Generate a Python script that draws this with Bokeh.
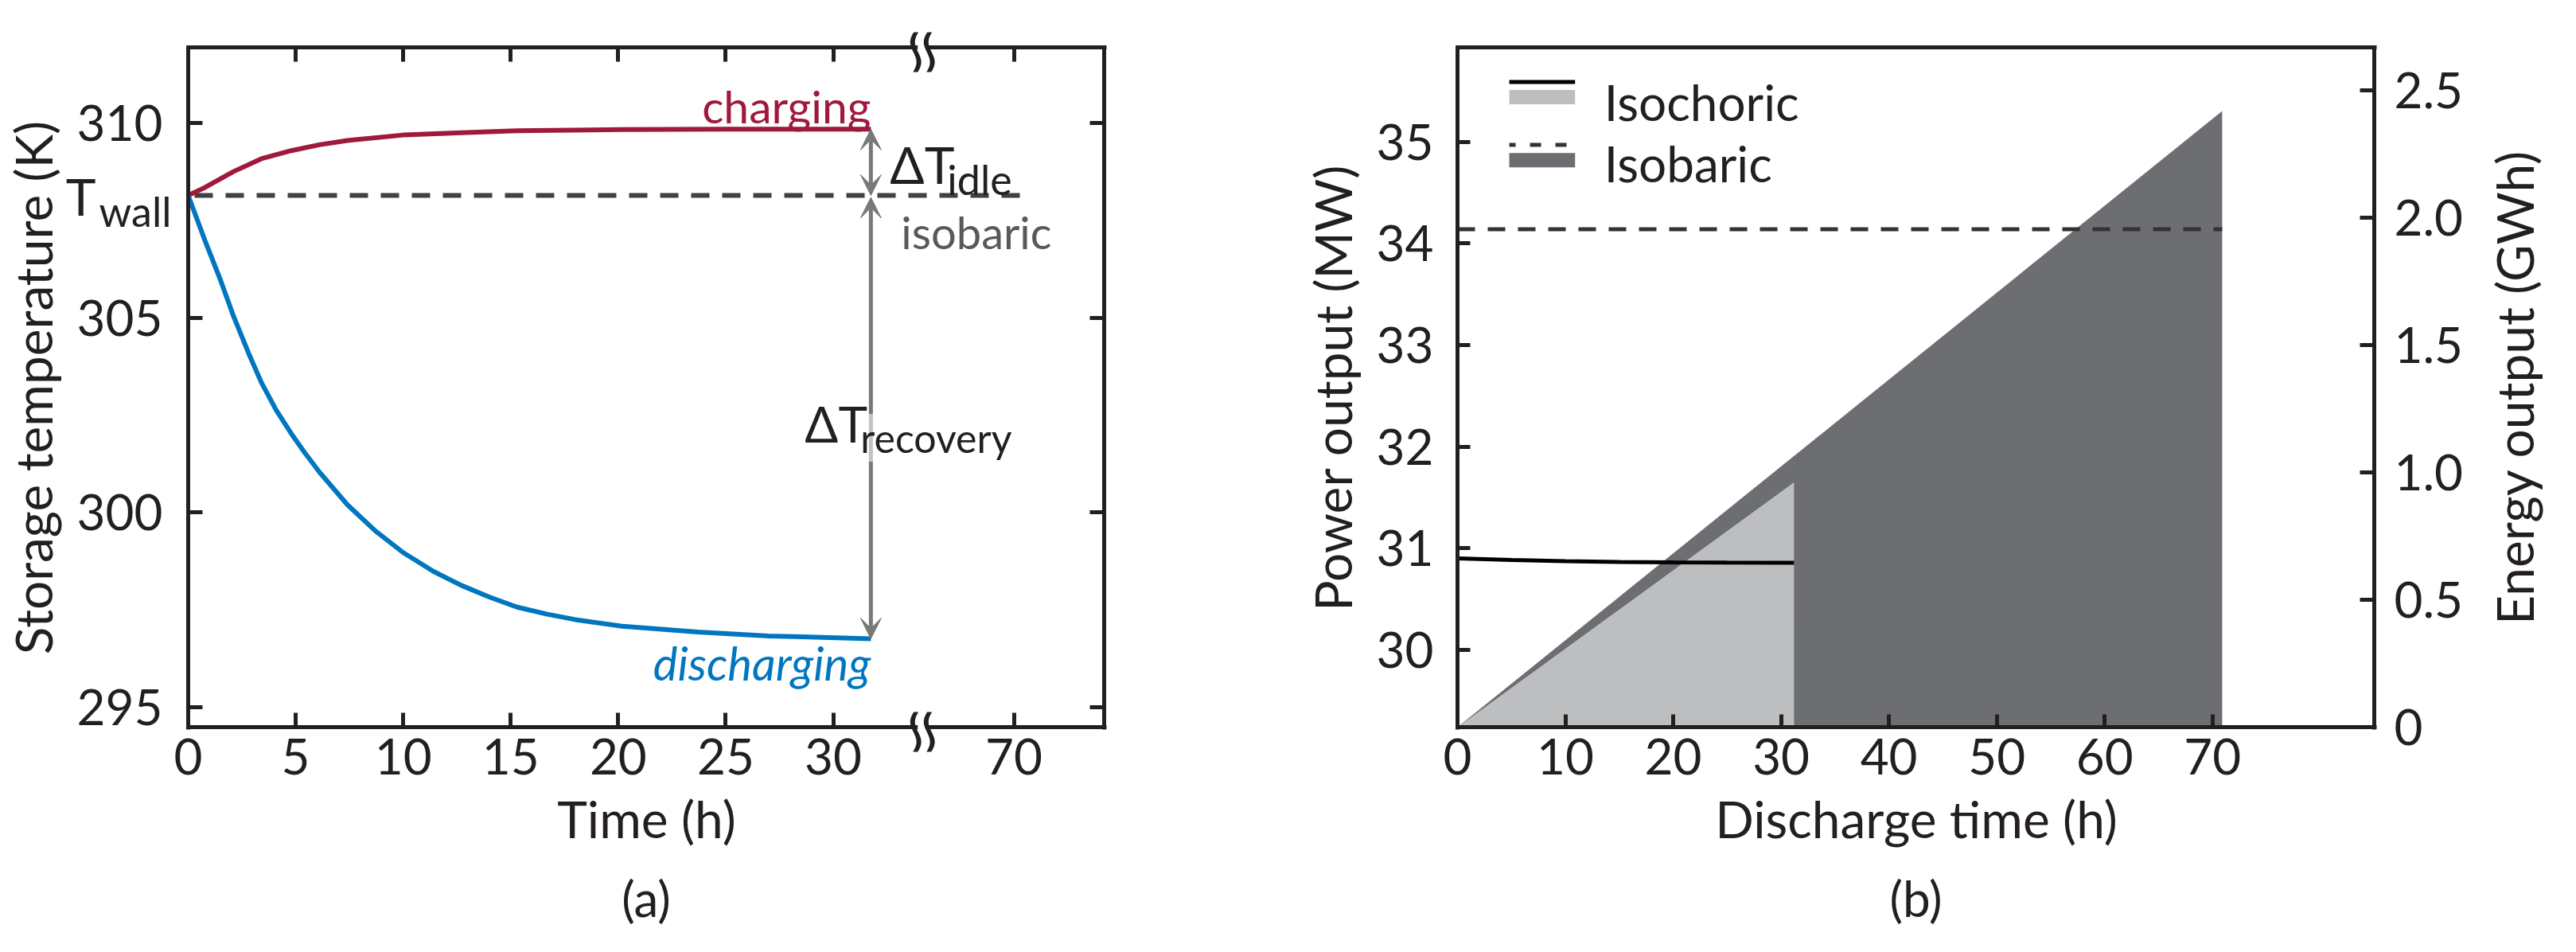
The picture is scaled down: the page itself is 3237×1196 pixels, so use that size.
import math
from bokeh.plotting import figure
from bokeh.layouts import row
from bokeh.models import (Range1d, LinearAxis, FixedTicker, Label, Arrow, VeeHead,
                          PolyAnnotation)
from bokeh.embed import file_html
from bokeh.resources import INLINE

# ---------------- Panel (a) data ----------------
charge_t = [0, 0.8, 2.1, 3.4, 4.8, 6.1, 7.4, 10.0, 12.7, 15.3, 20.2, 25.0, 31.75]
charge_T = [308.14, 308.35, 308.75, 309.08, 309.29, 309.44, 309.55, 309.69, 309.75,
            309.80, 309.83, 309.84, 309.84]
discharge_t = [0, 0.8, 1.5, 2.1, 2.8, 3.4, 4.1, 4.8, 5.4, 6.1, 7.4, 8.7, 10.0, 11.4,
               12.7, 14.0, 15.3, 16.7, 18.0, 20.2, 23.7, 27.0, 31.75]
discharge_T = [308.14, 306.95, 305.97, 305.05, 304.10, 303.34, 302.62, 302.02, 301.55,
               301.04, 300.20, 299.53, 298.97, 298.49, 298.13, 297.83, 297.57, 297.39,
               297.25, 297.08, 296.93, 296.83, 296.76]
t_wall = 308.14
isobaric_hold_t = [0, 70.9]
a_xticks_h = [0, 5, 10, 15, 20, 25, 30, 70]
a_yticks = [295, 300, 305, 310]

# ---------------- Panel (b) data ----------------
isochoric_t = [0, 5, 10, 15, 20, 25, 31.2]
isochoric_P = [30.90, 30.885, 30.873, 30.866, 30.862, 30.860, 30.858]
isobaric_t = [0, 70.9]
isobaric_P = [34.14, 34.14]
isochoric_E_t = [0, 31.2]
isochoric_E = [0, 0.961]
isobaric_E_t = [0, 70.9]
isobaric_E = [0, 2.42]
b_xticks = [0, 10, 20, 30, 40, 50, 60, 70]
b_yticks = [30, 31, 32, 33, 34, 35]
b_eticks = [0, 0.5, 1.0, 1.5, 2.0, 2.5]
b_elabels = ["0", "0.5", "1.0", "1.5", "2.0", "2.5"]

# ---------------- styling ----------------
FONT = "Lato"
INK = "#231F20"
RED = "#A0193C"
BLUE = "#0076C0"
ARROW_GRAY = "#787878"
DASH_GRAY = "#414042"
LIGHT = "#BCBEC0"
DARK = "#6D6E71"
TICK_FS = "62px"
LABEL_FS = "64px"
LW = 5

# broken time axis for panel (a): 0..34 h linear, then compressed region around 70 h
BREAK_POS = 34.15
POS_70 = 38.4


def to_axis(h):
    return h if h <= BREAK_POS else POS_70 + (h - 70.0) * 0.8


# figure geometry (pixels): each figure's frame covers the whole figure, and the
# plot box is drawn inside it with fixed-location axes.
FIG_H = 1175
BOX_TOP, BOX_BOTTOM = 59, 913          # in figure pixels


def make_ranges(width, box_l, box_r, x0, x1, y0, y1):
    pxx = (box_r - box_l) / (x1 - x0)
    pxy = (BOX_BOTTOM - BOX_TOP) / (y1 - y0)
    xr = Range1d(x0 - box_l / pxx, x1 + (width - box_r) / pxx)
    yr = Range1d(y0 - (FIG_H - BOX_BOTTOM) / pxy, y1 + BOX_TOP / pxy)
    return xr, yr, pxx, pxy


def style_axis(ax, tick_in, tick_out, labels=True):
    ax.axis_line_width = LW
    ax.axis_line_color = INK
    ax.major_tick_line_width = LW
    ax.major_tick_line_color = INK
    ax.major_tick_in = tick_in
    ax.major_tick_out = tick_out
    ax.minor_tick_line_color = None
    ax.major_label_text_font = FONT
    ax.major_label_text_color = INK
    ax.major_label_text_font_size = TICK_FS if labels else "0px"
    ax.axis_label_text_font = FONT
    ax.axis_label_text_font_size = LABEL_FS
    ax.axis_label_text_font_style = "normal"
    ax.axis_label_text_color = INK


def lab(plot, text, x, y, xo=0, yo=0, size=56, color=INK, align="left",
        baseline="alphabetic", style="normal", font=FONT, **kw):
    # Bokeh places "alphabetic" text on the descent line; lift it to the true baseline
    shift = 0.2 * size if baseline == "alphabetic" else 0
    plot.add_layout(Label(x=x, y=y, x_offset=xo, y_offset=yo + shift, text=text,
                          text_font=font, text_font_size=f"{size}px", text_color=color,
                          text_align=align, text_baseline=baseline,
                          text_font_style=style, **kw))


def bare_figure(width, xr, yr):
    p = figure(width=width, height=FIG_H, output_backend="svg", toolbar_location=None,
               x_range=xr, y_range=yr, x_axis_type=None, y_axis_type=None,
               min_border=0, background_fill_color="white", border_fill_color="white")
    p.outline_line_color = None
    p.grid.visible = False
    return p


# ======================= Panel (a) =======================
A_W = 1552
ax0, ax1 = 0.0, 42.6
ay0, ay1 = 294.49, 311.94
xr_a, yr_a, pxx_a, pxy_a = make_ranges(A_W, 236, 1387, ax0, ax1, ay0, ay1)
p1 = bare_figure(A_W, xr_a, yr_a)
hx, hy = 2.5 / pxx_a, 2.5 / pxy_a

ax_ticks = [to_axis(h) for h in a_xticks_h]
ax_over = {to_axis(h): str(h) for h in a_xticks_h}

xb = LinearAxis(ticker=FixedTicker(ticks=ax_ticks), fixed_location=ay0,
                bounds=(ax0 - hx, ax1 + hx), axis_label="Time (h)")
xb.major_label_overrides = ax_over
style_axis(xb, 18, 0)
xb.major_label_standoff = 14
xb.axis_label_standoff = 14
p1.add_layout(xb, "below")

yl = LinearAxis(ticker=FixedTicker(ticks=a_yticks), fixed_location=ax0,
                bounds=(ay0 - hy, ay1 + hy), axis_label="Storage temperature (K)")
style_axis(yl, 18, 0)
yl.major_label_standoff = 32
yl.axis_label_standoff = 14
p1.add_layout(yl, "left")

xt = LinearAxis(ticker=FixedTicker(ticks=ax_ticks), fixed_location=ay1,
                bounds=(ax0 - hx, ax1 + hx))
style_axis(xt, 18, 0, labels=False)
p1.add_layout(xt, "above")
yr = LinearAxis(ticker=FixedTicker(ticks=a_yticks), fixed_location=ax1,
                bounds=(ay0 - hy, ay1 + hy))
style_axis(yr, 18, 0, labels=False)
p1.add_layout(yr, "right")

# curves
p1.line([to_axis(h) for h in isobaric_hold_t], [t_wall, t_wall], line_color=DASH_GRAY,
        line_width=6, line_dash="23 16", line_dash_offset=-8)
p1.line([to_axis(h) for h in charge_t], charge_T, line_color=RED, line_width=6)
p1.line([to_axis(h) for h in discharge_t], discharge_T, line_color=BLUE, line_width=6)

t_end = to_axis(charge_t[-1])


def vee():
    return VeeHead(size=26, fill_color=ARROW_GRAY, line_color=ARROW_GRAY, line_width=1)


p1.add_layout(Arrow(start=vee(), end=vee(), x_start=t_end, y_start=t_wall, x_end=t_end,
                    y_end=charge_T[-1], line_color=ARROW_GRAY, line_width=5))
p1.add_layout(Arrow(start=vee(), end=vee(), x_start=t_end, y_start=t_wall - 0.05,
                    x_end=t_end, y_end=discharge_T[-1], line_color=ARROW_GRAY, line_width=5))

mid_rec = (t_wall + discharge_T[-1]) / 2
lab(p1, "charging", t_end, charge_T[-1], yo=18, color=RED, align="right", size=57)
lab(p1, "discharging", t_end, discharge_T[-1], yo=-42, color=BLUE, align="right",
    size=58, style="italic")
lab(p1, "ΔT", t_end, t_wall, xo=24, yo=26, size=64)
lab(p1, "idle", t_end, t_wall, xo=96, yo=10, size=52)
lab(p1, "isobaric", t_end, t_wall, xo=38, yo=-57, size=56, color="#58595B")
lab(p1, "ΔT", t_end, mid_rec, xo=-83, yo=-20, size=62)
lab(p1, "recovery", t_end, mid_rec, xo=-13, yo=-36, size=50,
    background_fill_color="white", background_fill_alpha=0.55)
lab(p1, "T", ax0, t_wall, xo=-116, yo=-14, size=64, align="right")
lab(p1, "wall", ax0, t_wall, xo=-112, yo=-30, size=52)
lab(p1, "(a)", (ax0 + ax1) / 2, ay0, yo=-214, size=62, align="center", baseline="middle")

# axis break marks (top and bottom): white gap + two wavy strokes
for yb in (ay0, ay1):
    gx, gy = 6 / pxx_a, 9 / pxy_a
    p1.add_layout(PolyAnnotation(xs=[BREAK_POS - gx, BREAK_POS + gx, BREAK_POS + gx, BREAK_POS - gx],
                                 ys=[yb - gy, yb - gy, yb + gy, yb + gy],
                                 fill_color="white", fill_alpha=1.0, line_color=None))
    for dx in (-8.5, 8.5):
        left, right = [], []
        n = 20
        for i in range(n + 1):
            t = -1 + 2 * i / n
            px = dx - 5.0 * math.sin(math.pi * t * 0.9) + 2.0 * t
            py = -6 + 25 * t
            left.append((BREAK_POS + (px - 3.0) / pxx_a, yb + py / pxy_a))
            right.append((BREAK_POS + (px + 3.0) / pxx_a, yb + py / pxy_a))
        pts = left + right[::-1]
        p1.add_layout(PolyAnnotation(xs=[q[0] for q in pts], ys=[q[1] for q in pts],
                                     fill_color=INK, fill_alpha=1.0, line_color=None))

# ======================= Panel (b) =======================
B_W = 1669
bx0, bx1 = 0.0, 85.0
by0, by1 = 29.24, 35.93
be0, be1 = 0.0, 2.67
xr_b, yr_b, pxx_b, pxy_b = make_ranges(B_W, 279, 1431, bx0, bx1, by0, by1)
pxe = (BOX_BOTTOM - BOX_TOP) / (be1 - be0)
er = Range1d(be0 - (FIG_H - BOX_BOTTOM) / pxe, be1 + BOX_TOP / pxe)
p2 = bare_figure(B_W, xr_b, yr_b)
p2.extra_y_ranges = {"energy": er}
hxb, hyb = 2.5 / pxx_b, 2.5 / pxy_b

p2.varea(x=isobaric_E_t, y1=[0] * len(isobaric_E), y2=isobaric_E, fill_color=DARK,
         y_range_name="energy")
p2.varea(x=isochoric_E_t, y1=[0] * len(isochoric_E), y2=isochoric_E, fill_color=LIGHT,
         y_range_name="energy")
p2.line(isochoric_t, isochoric_P, line_color="black", line_width=5)
p2.line(isobaric_t, isobaric_P, line_color="#333333", line_width=5, line_dash="22 16")

bxa = LinearAxis(ticker=FixedTicker(ticks=b_xticks), fixed_location=by0,
                 bounds=(bx0 - hxb, bx1 + hxb), axis_label="Discharge time (h)")
style_axis(bxa, 16, 0)
bxa.major_label_standoff = 14
bxa.axis_label_standoff = 14
p2.add_layout(bxa, "below")

bya = LinearAxis(ticker=FixedTicker(ticks=b_yticks), fixed_location=bx0,
                 bounds=(by0 - hyb, by1 + hyb), axis_label="Power output (MW)")
style_axis(bya, 16, 0)
bya.major_label_standoff = 30
bya.axis_label_standoff = 14
p2.add_layout(bya, "left")

bta = LinearAxis(ticker=FixedTicker(ticks=[]), fixed_location=by1,
                 bounds=(bx0 - hxb, bx1 + hxb))
style_axis(bta, 0, 0, labels=False)
p2.add_layout(bta, "above")

be = LinearAxis(y_range_name="energy", ticker=FixedTicker(ticks=b_eticks),
                fixed_location=bx1, bounds=(be0 - 2.5 / pxe, be1 + 2.5 / pxe))
be.major_label_overrides = {t: s for t, s in zip(b_eticks, b_elabels)}
style_axis(be, 18, 0)
be.major_label_standoff = 25
p2.add_layout(be, "right")

lab(p2, "Energy output (GWh)", bx1, (by0 + by1) / 2, xo=176, size=64,
    align="center", baseline="middle", angle=90, angle_units="deg")
lab(p2, "(b)", (bx0 + bx1) / 2, by0, yo=-214, size=62, align="center", baseline="middle")

# legend (drawn manually: line above patch, as in the original)
lx0, lx1 = 4.8, 10.9
p2.segment(x0=[lx0], y0=[35.59], x1=[lx1], y1=[35.59], line_color="black", line_width=5)
p2.quad(left=[lx0], right=[lx1], bottom=[35.37], top=[35.51], fill_color=LIGHT, line_color=None)
p2.segment(x0=[lx0], y0=[34.97], x1=[lx1], y1=[34.97], line_color="#333333", line_width=5,
           line_dash="14 18", line_dash_offset=6)
p2.quad(left=[lx0], right=[lx1], bottom=[34.75], top=[34.89], fill_color=DARK, line_color=None)
lab(p2, "Isochoric", 13.6, 35.30, size=62)
lab(p2, "Isobaric", 13.6, 34.69, size=62)

layout = row(p1, p2)
open("out.html", "w").write(file_html(layout, INLINE))
